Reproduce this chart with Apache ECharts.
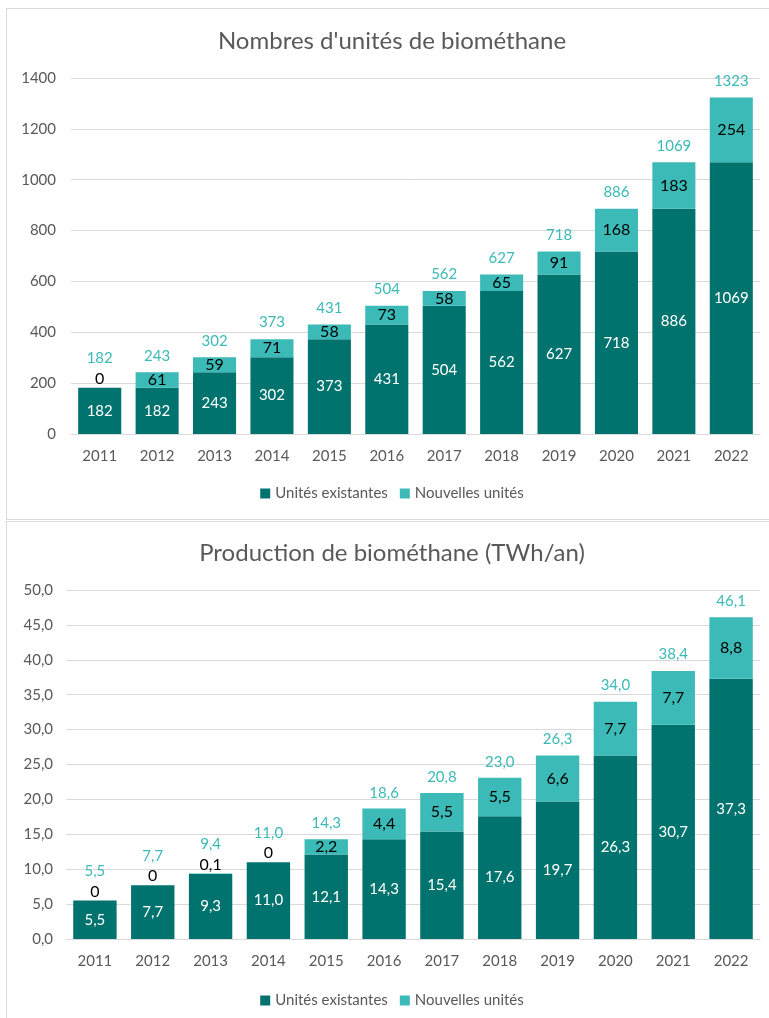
<!DOCTYPE html>
<html>
<head>
<meta charset="utf-8">
<script src="https://cdn.jsdelivr.net/npm/echarts@6/dist/echarts.min.js"></script>
<style>
  body { margin: 0; background: #fff; }
  .panel { position: absolute; left: 6px; width: 770px; background: #fff; border: 1px solid #d9d9d9; }
</style>
</head>
<body>
<div id="c1" class="panel" style="top:8px;height:510px"></div>
<div id="c2" class="panel" style="top:521px;height:500px"></div>
<script>
// données
const annees = ['2011','2012','2013','2014','2015','2016','2017','2018','2019','2020','2021','2022'];

const unitesExistantes = [182, 182, 243, 302, 373, 431, 504, 562, 627, 718, 886, 1069];
const unitesNouvelles  = [0, 61, 59, 71, 58, 73, 58, 65, 91, 168, 183, 254];
const unitesTotal      = [182, 243, 302, 373, 431, 504, 562, 627, 718, 886, 1069, 1323];

const prodExistantes = [5.5, 7.7, 9.3, 11.0, 12.1, 14.3, 15.4, 17.6, 19.7, 26.3, 30.7, 37.3];
const prodNouvelles  = [0, 0, 0.1, 0, 2.2, 4.4, 5.5, 5.5, 6.6, 7.7, 7.7, 8.8];
const prodTotal      = [5.5, 7.7, 9.4, 11.0, 14.3, 18.6, 20.8, 23.0, 26.3, 34.0, 38.4, 46.1];

const FONT = 'Lato';
const DARK = '#00736e';
const LIGHT = '#3bbab7';
const GRIS = '#595959';

function fr(v, dec) {
  if (v === 0 && dec > 0) return '0';
  return dec ? v.toFixed(dec).replace('.', ',') : String(v);
}

function buildOption(cfg) {
  const petit = v => v <= cfg.max * 0.005;
  return {
    animation: false,
    textStyle: { fontFamily: FONT },
    title: {
      text: cfg.titre, left: 'center', top: cfg.titreTop,
      textStyle: { fontFamily: FONT, fontSize: 24, fontWeight: 'normal', color: GRIS }
    },
    grid: { left: cfg.gauche, right: 17, top: cfg.haut, height: cfg.hauteur },
    legend: {
      data: ['Unités existantes', 'Nouvelles unités'],
      top: cfg.legendeTop, left: 'center',
      itemWidth: 10, itemHeight: 10, itemGap: 12, icon: 'rect',
      textStyle: { fontFamily: FONT, fontSize: 15, color: GRIS }
    },
    xAxis: {
      type: 'category', data: annees,
      axisLine: { lineStyle: { color: '#d9d9d9' } },
      axisTick: { show: false },
      axisLabel: { color: GRIS, fontSize: 15, margin: 15, fontFamily: FONT }
    },
    yAxis: {
      type: 'value', min: 0, max: cfg.max, interval: cfg.pas,
      axisLabel: { color: GRIS, fontSize: 15, margin: cfg.margeY, fontFamily: FONT,
        formatter: v => (v === 0 && cfg.dec) ? '0,0' : fr(v, cfg.dec) },
      splitLine: { lineStyle: { color: '#d9d9d9' } }
    },
    series: [
      {
        name: 'Unités existantes', type: 'bar', stack: 'a', barCategoryGap: '25%',
        itemStyle: { color: DARK },
        label: { show: true, position: 'inside', color: '#fff', fontSize: 15, fontFamily: FONT,
          formatter: p => fr(p.value, cfg.dec) },
        data: cfg.existantes
      },
      {
        name: 'Nouvelles unités', type: 'bar', stack: 'a', barCategoryGap: '25%',
        itemStyle: { color: LIGHT },
        data: cfg.nouvelles.map(v => ({
          value: v,
          label: petit(v)
            ? { show: true, position: 'top', distance: 1 }
            : { show: true, position: 'inside' }
        })),
        label: { color: '#000', fontSize: 16, fontFamily: FONT,
          formatter: p => fr(p.value, cfg.dec) }
      },
      {
        name: 'Total', type: 'bar', barGap: '-100%', barCategoryGap: '25%',
        itemStyle: { color: 'rgba(0,0,0,0)' }, silent: true, z: 1,
        data: cfg.total.map((v, i) => ({
          value: v,
          label: { distance: petit(cfg.nouvelles[i]) ? 22 : 9 }
        })),
        label: { show: true, position: 'top', color: LIGHT, fontSize: 15, fontFamily: FONT,
          formatter: p => fr(p.value, cfg.dec) }
      }
    ]
  };
}

echarts.init(document.getElementById('c1')).setOption(buildOption({
  titre: "Nombres d'unités de biométhane", titreTop: 15,
  gauche: 64, haut: 69, hauteur: 356, legendeTop: 472, margeY: 15,
  max: 1400, pas: 200, dec: 0,
  existantes: unitesExistantes, nouvelles: unitesNouvelles, total: unitesTotal
}));

echarts.init(document.getElementById('c2')).setOption(buildOption({
  titre: 'Production de biométhane (TWh/an)', titreTop: 14,
  gauche: 59, haut: 68, hauteur: 349, legendeTop: 466, margeY: 13,
  max: 50, pas: 5, dec: 1,
  existantes: prodExistantes, nouvelles: prodNouvelles, total: prodTotal
}));
</script>
</body>
</html>
